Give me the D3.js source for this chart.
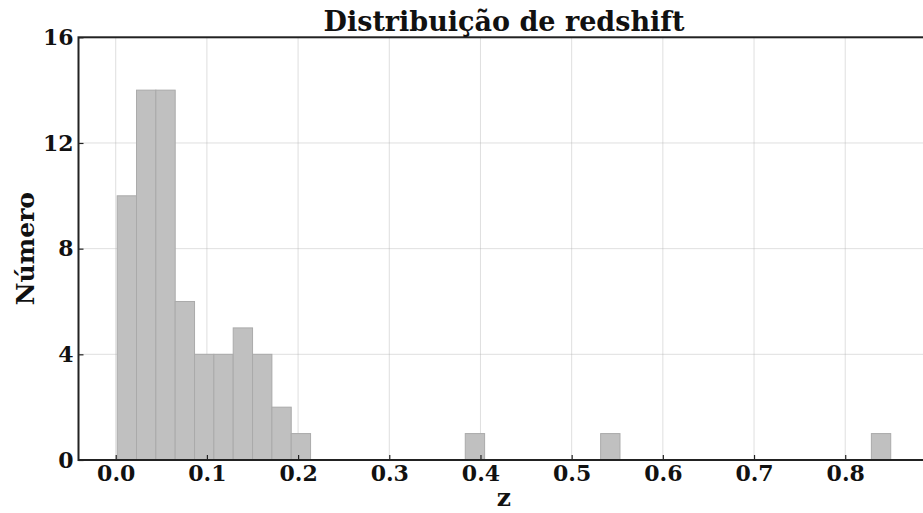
<!DOCTYPE html>
<html><head><meta charset="utf-8">
<script src="https://cdn.jsdelivr.net/npm/d3@7"></script>
<style>
html,body{margin:0;padding:0;background:#fff;overflow:hidden;}
svg{display:block;font-family:"DejaVu Serif",serif;font-weight:bold;}
</style></head>
<body><svg id="c" width="923" height="513"></svg>
<script>
// Histogram: 40 equal-width bins between zMin and zMax
const zMin = 0.0016;
const zMax = 0.8499;
const counts = [10,14,14,6,4,4,5,4,2,1, 0,0,0,0,0,0,0,0,1,0, 0,0,0,0,0,1,0,0,0,0, 0,0,0,0,0,0,0,0,0,1];
const xTicks = [0.0,0.1,0.2,0.3,0.4,0.5,0.6,0.7,0.8];
const yTicks = [0,4,8,12,16];
const title = "Distribuição de redshift";
const xLabel = "z";
const yLabel = "Número";

const svg = d3.select("#c");
const L = 78.5, T = 37.3, B = 460, R = 929.4;
const binW = (zMax - zMin) / counts.length;
const pad = (zMax - zMin) * 0.05;
const x = d3.scaleLinear().domain([zMin - pad, zMax + pad]).range([L, R]);
const y = d3.scaleLinear().domain([0, 16]).range([B, T]);

const bins = counts.map((c, i) => ({x0: zMin + i * binW, x1: zMin + (i + 1) * binW, n: c}));

// grid
const g = svg.append("g");
g.selectAll("line.vg").data(xTicks).join("line")
  .attr("x1", d => x(d)).attr("x2", d => x(d)).attr("y1", T).attr("y2", B)
  .attr("stroke", "#b0b0b0").attr("stroke-opacity", 0.5).attr("stroke-width", 0.8);
g.selectAll("line.hg").data(yTicks).join("line")
  .attr("x1", L).attr("x2", R).attr("y1", d => y(d)).attr("y2", d => y(d))
  .attr("stroke", "#b0b0b0").attr("stroke-opacity", 0.5).attr("stroke-width", 0.8);

// bars
svg.append("g").selectAll("rect").data(bins.filter(b => b.n > 0)).join("rect")
  .attr("x", d => x(d.x0)).attr("width", d => x(d.x1) - x(d.x0))
  .attr("y", d => y(d.n)).attr("height", d => y(0) - y(d.n))
  .attr("fill", "#c0c0c0").attr("stroke", "#aaaaaa").attr("stroke-width", 1);

// axes
const xAxis = d3.axisBottom(x).tickValues(xTicks).tickFormat(d3.format(".1f")).tickSizeInner(-5).tickSizeOuter(0).tickPadding(10);
const yAxis = d3.axisLeft(y).tickValues(yTicks).tickFormat(d3.format("d")).tickSizeInner(-5).tickSizeOuter(0).tickPadding(5);
const gx = svg.append("g").attr("transform", `translate(0,${B})`).call(xAxis);
const gy = svg.append("g").attr("transform", `translate(${L},0)`).call(yAxis);
[gx, gy].forEach(a => {
  a.select(".domain").remove();
  a.selectAll(".tick line").attr("stroke", "#222").attr("stroke-width", 1.2);
  a.selectAll("text").attr("font-size", 22).attr("font-family", "DejaVu Serif").attr("font-weight", "bold").attr("fill", "#111");
});
gx.selectAll("text").attr("y", 21).attr("dy", 0);

// spines
svg.append("rect").attr("x", L).attr("y", T).attr("width", R - L).attr("height", B - T)
  .attr("fill", "none").attr("stroke", "#222").attr("stroke-width", 2);

// labels
svg.append("text").attr("x", (L + R) / 2).attr("y", 31).attr("text-anchor", "middle")
  .attr("font-size", 27).attr("fill", "#111").text(title);
svg.append("text").attr("x", (L + R) / 2).attr("y", 506).attr("text-anchor", "middle")
  .attr("font-size", 25).attr("fill", "#111").text(xLabel);
svg.append("text").attr("transform", `translate(34,${(T + B) / 2}) rotate(-90)`).attr("text-anchor", "middle")
  .attr("font-size", 25).attr("fill", "#111").text(yLabel);
</script></body></html>
